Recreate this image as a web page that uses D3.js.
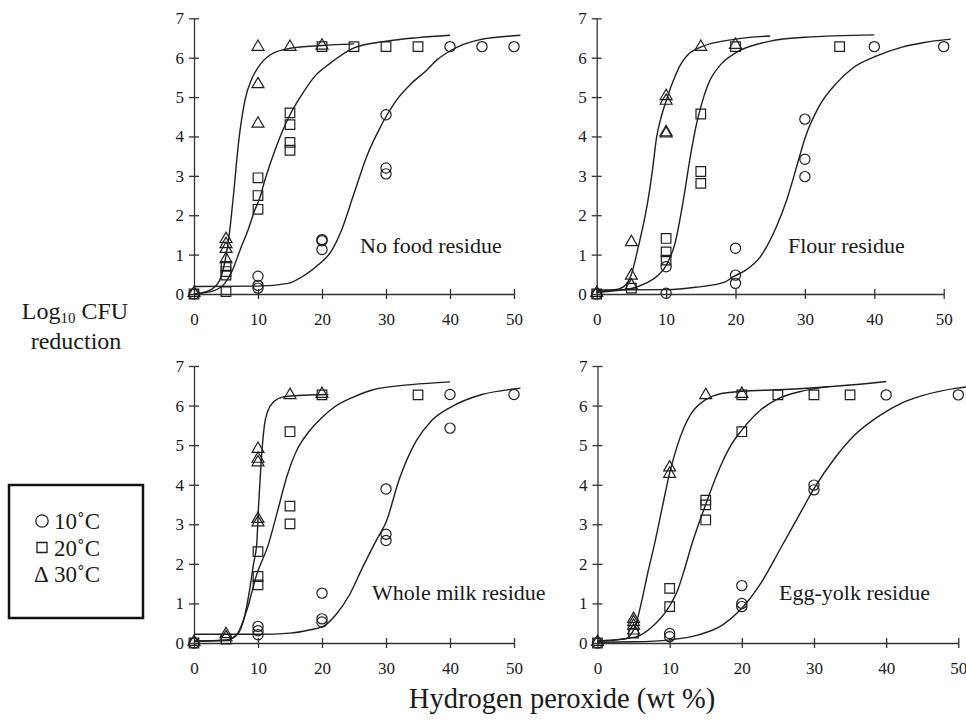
<!DOCTYPE html>
<html>
<head>
<meta charset="utf-8">
<script src="https://cdn.jsdelivr.net/npm/d3@7/dist/d3.min.js"></script>
<style>
  body { margin: 0; background: #fff; }
  svg text { font-family: "Liberation Serif", "Times New Roman", serif; fill: #1a1a1a; }
</style>
</head>
<body>
<svg id="chart" width="966" height="722"></svg>
<script>
// ticks
var xTicks = [0, 10, 20, 30, 40, 50];
var yTicks = [0, 1, 2, 3, 4, 5, 6, 7];
var temps = ["10˚C", "20˚C", "30˚C"];

// observed points [wt %, log10 reduction]  (10, 20, 30 C)
var noFood10 = [[0,0],[10,0.45],[10,0.22],[10,0.15],[20,1.38],[20,1.35],[20,1.13],[30,4.55],[30,3.2],[30,3.05],[40,6.28],[45,6.28],[50,6.28]];
var noFood20 = [[0,0],[5,0.7],[5,0.57],[5,0.48],[5,0.06],[10,2.95],[10,2.5],[10,2.15],[15,4.6],[15,4.3],[15,3.85],[15,3.65],[20,6.28],[25,6.28],[30,6.28],[35,6.28]];
var noFood30 = [[0,0],[5,1.37],[5,1.24],[5,1.12],[5,0.86],[10,6.25],[10,5.3],[10,4.3],[15,6.25],[20,6.28]];

var flour10 = [[0,0],[10,0.69],[10,0.02],[20,1.16],[20,0.48],[20,0.27],[30,4.44],[30,3.42],[30,2.98],[40,6.28],[50,6.28]];
var flour20 = [[0,0],[5,0.15],[10,1.41],[10,1.07],[10,0.86],[15,4.57],[15,3.11],[15,2.81],[20,6.28],[35,6.28]];
var flour30 = [[0,0],[5,1.29],[5,0.44],[5,0.19],[10,5.0],[10,4.88],[10,4.08],[10,4.05],[15,6.25],[20,6.3]];

var milk10 = [[0,0],[10,0.42],[10,0.31],[10,0.21],[20,1.26],[20,0.61],[20,0.53],[30,3.89],[30,2.75],[30,2.59],[40,6.28],[40,5.43],[50,6.28]];
var milk20 = [[0,0],[5,0.1],[10,2.31],[10,1.68],[10,1.47],[15,5.34],[15,3.46],[15,3.01],[20,6.27],[35,6.27]];
var milk30 = [[0,0],[5,0.2],[5,0.12],[10,4.88],[10,4.63],[10,4.54],[10,3.11],[10,3.02],[15,6.24],[20,6.27]];

var egg10 = [[0,0],[10,0.24],[10,0.16],[20,1.45],[20,1.0],[20,0.92],[30,3.99],[30,3.87],[40,6.27],[50,6.27]];
var egg20 = [[0,0],[5,0.25],[10,1.38],[10,0.92],[15,3.61],[15,3.49],[15,3.11],[20,5.34],[20,6.27],[25,6.27],[30,6.27],[35,6.27]];
var egg30 = [[0,0],[5,0.58],[5,0.5],[5,0.41],[5,0.29],[10,4.41],[10,4.25],[15,6.24],[20,6.27]];

// fitted curves
var noFoodFit10 = [[0,0.19],[10,0.2],[14.7,0.27],[17.3,0.48],[19.7,0.78],[21.3,1.05],[23,1.6],[25,2.55],[27,3.5],[29,4.2],[30,4.5],[32,5.0],[34,5.35],[36.4,5.69],[38,5.95],[40,6.17],[42,6.33],[44.7,6.46],[48,6.53],[51,6.57]];
var noFoodFit20 = [[0,0],[3,0.08],[4.8,0.27],[6,0.6],[7.2,1.12],[8.5,1.65],[9.5,2.13],[10.3,2.45],[11,2.85],[12,3.35],[13,3.8],[14,4.2],[15,4.55],[17,5.1],[19,5.55],[21.2,5.85],[25,6.25],[30,6.42],[35,6.51],[40,6.57]];
var noFoodFit30 = [[0,0],[2.5,0.1],[4,0.35],[4.8,0.8],[5.5,1.5],[6.1,2.4],[7,3.9],[8,4.95],[9,5.45],[10,5.75],[12,6.08],[15,6.24],[20,6.31],[25,6.35]];

var flourFit10 = [[0,0.1],[10,0.11],[14.2,0.17],[18.5,0.31],[19.7,0.44],[21.6,0.62],[23.6,0.95],[25,1.37],[26,1.75],[27.4,2.4],[29,3.35],[30,3.95],[32,4.75],[34.6,5.36],[37,5.75],[40,6.02],[44,6.27],[47,6.38],[51,6.47]];
var flourFit20 = [[0,0.05],[5,0.14],[7,0.27],[8.9,0.48],[10,0.72],[11.3,1.3],[12.5,2.4],[13.5,3.5],[14.3,4.25],[15,4.75],[16,5.3],[18,5.85],[20,6.12],[25,6.42],[30,6.52],[40,6.58]];
var flourFit30 = [[0,0.05],[3,0.12],[4,0.2],[5,0.5],[6,1.2],[7,2.0],[7.5,2.5],[8,3.1],[8.65,4.0],[9.3,4.5],[10,4.9],[11,5.4],[12,5.8],[13,6.05],[15,6.27],[20,6.47],[25,6.55]];

var milkFit10 = [[0,0.22],[10,0.22],[15,0.25],[18,0.33],[20.2,0.42],[22.2,0.72],[24.3,1.22],[26.4,1.93],[28.5,2.6],[30,3.05],[32.1,4.15],[34.7,5.1],[37,5.6],[40,5.95],[45,6.28],[50,6.42],[51,6.44]];
var milkFit20 = [[0,0.05],[5,0.07],[6.7,0.22],[8.2,0.8],[9.8,1.73],[11.6,2.48],[13,3.3],[14.5,4.2],[16,4.85],[18,5.35],[20,5.7],[22,5.97],[25,6.22],[28,6.4],[34,6.53],[40,6.6]];
var milkFit30 = [[0,0.05],[5,0.07],[6.7,0.2],[7.7,0.55],[8.75,1.4],[9.3,2.0],[9.8,2.5],[10.1,3.5],[10.5,4.6],[11,5.5],[11.5,5.85],[12.5,6.1],[14,6.22],[17,6.26],[21,6.28]];

var eggFit10 = [[0,0.02],[5,0.03],[10,0.08],[13.9,0.2],[17.3,0.45],[19.6,0.8],[22.6,1.5],[25.4,2.4],[28,3.25],[30,3.9],[33,4.7],[35.6,5.25],[39.2,5.76],[42,6.05],[45,6.25],[49.8,6.44],[51.5,6.48]];
var eggFit20 = [[0,0.05],[5.2,0.15],[7.5,0.4],[9.8,0.88],[11.2,1.38],[12.1,1.89],[13,2.45],[14,3.0],[15,3.5],[16,4.0],[17,4.45],[18.5,5.0],[20,5.38],[22.6,5.89],[25,6.17],[28,6.35],[32,6.48]];
var eggFit30 = [[0,0.05],[3.8,0.1],[5.2,0.41],[6.1,1.04],[7,1.8],[7.9,2.5],[9,3.45],[10,4.3],[11,4.95],[12,5.45],[13,5.8],[15,6.15],[17,6.3],[20,6.36],[25,6.4],[30,6.45],[35,6.52],[40,6.61]];

var panelNames = ["No food residue", "Flour residue", "Whole milk residue", "Egg-yolk residue"];
var panelObs = [[noFood10, noFood20, noFood30], [flour10, flour20, flour30], [milk10, milk20, milk30], [egg10, egg20, egg30]];
var panelFits = [[noFoodFit10, noFoodFit20, noFoodFit30], [flourFit10, flourFit20, flourFit30], [milkFit10, milkFit20, milkFit30], [eggFit10, eggFit20, eggFit30]];

// layout of the four plots (pixels)
var layout = [
    { left: 194, right: 514, bottom: 294, top: 18.3, lx: 360, ly: 253 },
    { left: 596.7, right: 943.7, bottom: 294, top: 18.3, lx: 788, ly: 253 },
    { left: 194, right: 514, bottom: 643, top: 366, lx: 372, ly: 600 },
    { left: 597.5, right: 958.3, bottom: 643, top: 366, lx: 779, ly: 600 }
];

var ink = "#1f1f1f";
var serif = "'Liberation Serif', 'Times New Roman', serif";
var shapes = [d3.symbolCircle, d3.symbolSquare, d3.symbolTriangle];
var shapeSize = [82, 92, 62];

var svg = d3.select("#chart");
svg.append("rect").attr("width", 966).attr("height", 722).attr("fill", "#fff");

layout.forEach(function (L, i) {
    var x = d3.scaleLinear().domain([0, 50]).range([L.left, L.right]);
    var y = d3.scaleLinear().domain([0, 7]).range([L.bottom, L.top]);
    var g = svg.append("g");

    // axes, ticks crossing the line
    var ax = g.append("g")
        .attr("transform", "translate(0," + L.bottom + ")")
        .call(d3.axisBottom(x).tickValues(xTicks).tickFormat(d3.format("d"))
            .tickSize(5).tickSizeOuter(0).tickPadding(13.5));
    ax.selectAll(".tick line").attr("y1", -5);
    var ay = g.append("g")
        .attr("transform", "translate(" + L.left + ",0)")
        .call(d3.axisLeft(y).tickValues(yTicks).tickFormat(d3.format("d"))
            .tickSize(5).tickSizeOuter(0).tickPadding(5));
    ay.selectAll(".tick line").attr("x1", 5);
    [ax, ay].forEach(function (a) {
        a.attr("font-family", serif).attr("font-size", 17);
        a.selectAll("path, line").attr("stroke", "#333").attr("stroke-width", 1.3);
        a.selectAll("text").attr("fill", ink);
    });

    // fitted curves
    var line = d3.line()
        .x(function (d) { return x(d[0]); })
        .y(function (d) { return y(d[1]); })
        .curve(d3.curveMonotoneX);
    g.selectAll("path.fit")
        .data(panelFits[i])
        .enter().append("path")
        .attr("class", "fit")
        .attr("d", line)
        .attr("fill", "none")
        .attr("stroke", ink)
        .attr("stroke-width", 1.4);

    // markers
    panelObs[i].forEach(function (pts, s) {
        var sym = d3.symbol().type(shapes[s]).size(shapeSize[s]);
        g.selectAll("path.m" + s)
            .data(pts)
            .enter().append("path")
            .attr("class", "m" + s)
            .attr("transform", function (d) {
                var dy = s === 2 ? -1 : 0;
                return "translate(" + x(d[0]) + "," + (y(d[1]) + dy) + ")";
            })
            .attr("d", sym)
            .attr("fill", "none")
            .attr("stroke", ink)
            .attr("stroke-width", 1.2);
    });

    g.append("text")
        .attr("x", L.lx)
        .attr("y", L.ly)
        .attr("font-size", 22)
        .text(panelNames[i]);
});

// y title
var yt = svg.append("text").attr("text-anchor", "middle").attr("font-size", 24);
yt.append("tspan").attr("x", 75).attr("y", 319).text("Log");
yt.append("tspan").attr("font-size", 15).attr("dy", 4).text("10");
yt.append("tspan").attr("dy", -4).text(" CFU");
svg.append("text").attr("text-anchor", "middle").attr("font-size", 24)
    .attr("x", 76).attr("y", 349).text("reduction");

// x title
svg.append("text").attr("text-anchor", "middle").attr("font-size", 28.5)
    .attr("x", 562).attr("y", 708).text("Hydrogen peroxide (wt %)");

// legend
svg.append("rect")
    .attr("x", 9).attr("y", 485).attr("width", 134).attr("height", 133)
    .attr("fill", "none").attr("stroke", "#111").attr("stroke-width", 2.5);
var legY = [521, 547.5, 574];
temps.forEach(function (t, s) {
    if (s < 2) {
        svg.append("path")
            .attr("transform", "translate(42," + legY[s] + ")")
            .attr("d", d3.symbol().type(shapes[s]).size(s === 0 ? 120 : 100))
            .attr("fill", "none").attr("stroke", ink).attr("stroke-width", 1.3);
    } else {
        svg.append("text").attr("x", 34).attr("y", legY[s] + 8).attr("font-size", 23).text("Δ");
    }
    svg.append("text").attr("x", 54).attr("y", legY[s] + 8).attr("font-size", 23).text(t);
});
</script>
</body>
</html>
